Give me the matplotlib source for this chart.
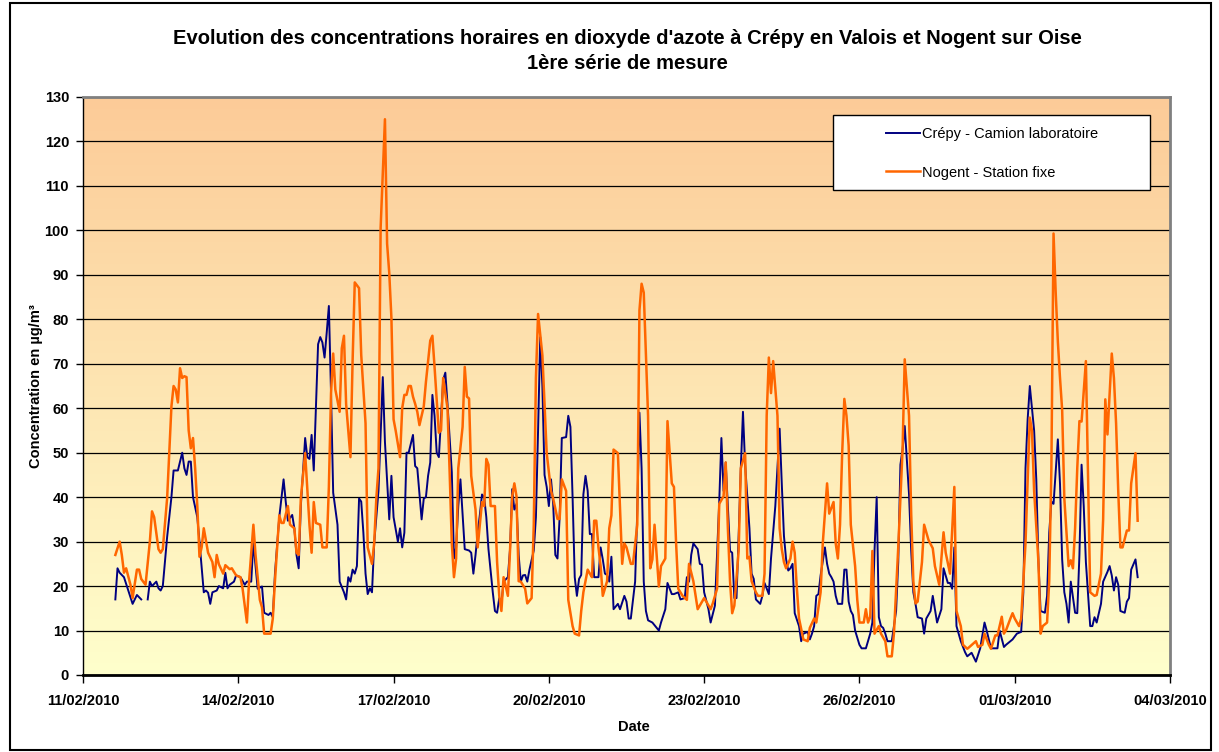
import numpy as np
import pandas as pd
import matplotlib
matplotlib.use('Agg')
import matplotlib.pyplot as plt
import matplotlib.dates as mdates
from matplotlib.colors import LinearSegmentedColormap
from matplotlib.patches import Rectangle

plt.rcParams['font.family'] = ['Liberation Sans', 'DejaVu Sans']

# hourly NO2 readings (hours after 11/02/2010 00:00, values in µg/m³)
start = pd.Timestamp('2010-02-11 00:00')

crepy_hours = [
    15, 16, 17, 19, 23, 25, 27, 28, 30, 31, 32, 34, 35, 36, 37, 39, 41, 42, 44, 46,
    47, 48, 49, 50, 51, 53, 54, 56, 57, 58, 59, 60, 62, 63, 65, 66, 67, 68, 70, 71,
    73, 75, 76, 78, 79, 80, 81, 83, 84, 86, 87, 88, 89, 91, 93, 94, 95, 97, 98, 99,
    100, 101, 103, 104, 105, 106, 107, 109, 110, 111, 112, 113, 114, 115, 116, 118, 119, 121, 122, 123,
    124, 125, 126, 127, 128, 129, 130, 131, 132, 133, 134, 135, 137, 139, 140, 142, 143, 144, 146, 147,
    148, 149, 150, 151, 153, 154, 155, 157, 158, 159, 160, 161, 162, 163, 164, 165, 167, 168, 169, 171,
    172, 173, 174, 175, 177, 179, 180, 181, 182, 183, 184, 185, 186, 187, 188, 190, 191, 192, 193, 194,
    195, 197, 198, 199, 200, 201, 202, 203, 204, 205, 206, 207, 209, 210, 211, 212, 213, 214, 215, 216,
    217, 218, 219, 220, 221, 222, 224, 225, 226, 227, 228, 229, 230, 231, 232, 233, 234, 235, 236, 237,
    239, 240, 241, 242, 243, 244, 245, 246, 248, 249, 251, 252, 253, 254, 256, 257, 258, 259, 260, 261,
    262, 264, 267, 268, 270, 271, 273, 274, 276, 277, 279, 280, 281, 282, 283, 285, 286, 287, 288, 290,
    291, 293, 295, 296, 297, 298, 300, 301, 302, 303, 304, 305, 306, 307, 309, 310, 311, 312, 314, 315,
    316, 318, 319, 321, 323, 324, 325, 326, 327, 328, 329, 330, 332, 333, 334, 336, 337, 338, 339, 340,
    341, 342, 344, 345, 346, 347, 348, 349, 350, 352, 353, 354, 355, 356, 357, 358, 360, 361, 363, 365,
    366, 367, 368, 369, 370, 371, 372, 373, 375, 376, 377, 378, 379, 380, 381, 383, 384, 385, 386, 387,
    389, 390, 391, 393, 394, 396, 398, 399, 401, 402, 403, 404, 405, 406, 407, 409, 410, 412, 414, 416,
    418, 419, 421, 422, 424, 425, 427, 428, 430, 431, 433, 435, 436, 437, 438, 439, 441, 442, 443, 444,
    446, 447, 448, 449, 450, 452, 453, 454, 455, 456, 457, 458, 460, 461, 462, 463, 464, 465, 467, 468,
    469, 470, 472, 473, 475, 476, 477, 478, 479, 480, 481, 483, 484, 485, 486, 488, 489,
]
crepy_no2 = [
    17, 24, 23, 22, 16, 18, 17, np.nan, 17, 21, 20, 21, 19.5, 19, 20, 31, 40, 46, 46, 50,
    46.5, 45, 48, 48, 40, 35.5, 30, 18.6, 19, 18.5, 16, 18.6, 19, 20, 19.5, 23, 19.5, 20.3, 21, 22.4,
    22, 20.3, 21, 21, 30, 24.5, 19.4, 19.9, 14, 13.5, 14, 13, 22.8, 35.5, 44, 39, 34.7, 36, 33, 27,
    24, 38, 53.3, 49, 48.6, 54, 46, 74.4, 76, 74.8, 71.4, 77, 83, 63.4, 41, 33.8, 21, 18.6, 17, 22,
    21, 23.7, 22.8, 24.5, 39.7, 39, 32, 22.8, 18.2, 19.5, 18.6, 29.6, 41.4, 67, 52.4, 35, 44.8, 35.5, 30, 33,
    28.7, 32, 50, 50, 54, 47, 46.5, 35, 39.7, 40, 44.8, 47.8, 63, 58.3, 50, 49, 66.4, 68, 61, 45.6,
    26.2, 28.7, 38, 44, 28.3, 28, 27.5, 22.8, 27, 32, 36, 40.6, 40, 35.5, 28.3, 18.6, 14.4, 14, 17.3, 16,
    21, 22, 28.3, 41.8, 37.2, 38.5, 27, 21, 22.4, 22.5, 21, 23.7, 28, 35.5, 55, 76, 65, 45, 42.3, 38,
    44, 38.5, 27, 26.2, 35.5, 53.3, 53.5, 58.3, 55.8, 40, 22, 17.8, 21.6, 22.5, 40.6, 44.8, 41.4, 31.7, 31.7, 22,
    22, 28.7, 26, 22.8, 22.5, 21, 26.6, 14.8, 16, 14.8, 17.8, 16.5, 12.7, 12.7, 21, 37, 59, 46.5, 21, 14.4,
    12.3, 11.8, 10, 11.8, 14.8, 20.7, 18.2, 18.2, 18.6, 17, 17.3, 22, 21, 27, 29.6, 28.3, 25, 24.8, 18.6, 14.8,
    11.8, 15.6, 39, 53.3, 41.4, 47.8, 27.9, 27.5, 17.3, 17.3, 31.3, 46.5, 59.2, 47.3, 33, 22.8, 21.6, 17, 16, 17.8,
    20.7, 18.2, 26.2, 38, 55.4, 43, 31.3, 26, 23.5, 24, 25, 13.9, 11, 7.6, 9.3, 9.7, 8, 9.3, 11, 17.8,
    18.2, 22.4, 28.7, 25, 22.8, 22, 21, 17.8, 16, 16, 23.7, 23.7, 16.5, 14.4, 13.5, 10, 6.8, 6, 6, 9.3,
    11.8, 28, 40, 13, 11, 10.6, 9.3, 7.6, 7.6, 11, 14.4, 25.4, 47.3, 50.7, 56, 40.6, 28, 18.6, 16, 13,
    12.7, 9.3, 12.7, 14.4, 17.8, 11.8, 14.8, 24, 20.7, 20.7, 19.4, 28.7, 11, 9.3, 7.6, 5.1, 4.2, 5, 3, 6,
    11.8, 10, 6, 6, 6, 10, 6.3, 6.8, 7.6, 8, 9.3, 9.7, 18.6, 46.5, 57.5, 65, 55, 44, 25.4, 14.4,
    14, 17.8, 32, 39, 38.5, 53, 43, 26, 18.6, 16, 11.8, 21, 14, 13.9, 27, 47.3, 38, 25.4, 11, 11,
    13, 11.8, 16, 21, 23.2, 24.5, 22.4, 19, 22, 20.3, 14.4, 14, 16.5, 17.3, 23.7, 26, 22,
]

nogent_hours = [
    15, 17, 18, 19, 20, 22, 23, 25, 26, 27, 29, 31, 32, 33, 35, 36, 37, 39, 41, 42,
    43, 44, 45, 46, 47, 48, 49, 50, 51, 52, 53, 54, 55, 56, 58, 60, 61, 62, 63, 65,
    66, 68, 69, 71, 73, 74, 76, 77, 79, 80, 82, 83, 84, 87, 88, 89, 91, 92, 93, 95,
    96, 98, 99, 100, 101, 103, 105, 106, 107, 108, 110, 111, 113, 114, 115, 116, 117, 119, 120, 121,
    122, 124, 125, 126, 128, 129, 131, 132, 134, 135, 136, 137, 138, 140, 141, 142, 143, 144, 145, 147,
    148, 149, 150, 151, 152, 153, 154, 155, 156, 157, 158, 159, 161, 162, 163, 165, 166, 167, 169, 170,
    171, 172, 173, 174, 176, 177, 178, 179, 180, 182, 183, 185, 186, 187, 188, 189, 191, 192, 193, 194,
    195, 196, 197, 198, 199, 200, 201, 202, 203, 205, 206, 208, 209, 210, 211, 213, 214, 215, 217, 218,
    220, 221, 222, 224, 225, 227, 228, 230, 231, 232, 234, 235, 236, 237, 238, 239, 240, 241, 243, 244,
    245, 246, 248, 250, 251, 252, 254, 255, 257, 258, 259, 260, 261, 262, 263, 264, 265, 266, 267, 268,
    270, 271, 273, 274, 275, 276, 278, 280, 281, 283, 285, 288, 289, 291, 292, 294, 295, 297, 298, 299,
    300, 301, 302, 304, 305, 307, 308, 309, 310, 312, 313, 315, 316, 317, 318, 319, 320, 322, 323, 324,
    325, 326, 328, 329, 330, 331, 332, 334, 336, 337, 339, 340, 342, 343, 345, 346, 348, 349, 350, 351,
    352, 353, 354, 355, 356, 358, 359, 360, 362, 363, 364, 365, 366, 367, 369, 370, 372, 373, 375, 376,
    378, 380, 381, 383, 384, 385, 386, 387, 389, 390, 392, 394, 395, 397, 399, 400, 402, 404, 405, 407,
    408, 410, 411, 414, 415, 417, 418, 420, 421, 423, 424, 426, 427, 428, 430, 431, 432, 434, 435, 437,
    438, 439, 440, 441, 443, 444, 445, 447, 448, 449, 450, 451, 452, 453, 454, 455, 457, 458, 459, 460,
    461, 462, 463, 465, 467, 469, 470, 472, 473, 474, 475, 477, 478, 479, 480, 481, 482, 484, 485, 486,
    488, 489,
]
nogent_no2 = [
    27, 30, 27, 23, 24, 20.3, 17.3, 23.7, 23.7, 21.6, 20.3, 30, 36.8, 35.5, 28.3, 27.5, 28.3, 39.7, 60.4, 65,
    64.2, 61.3, 69, 66.8, 67.2, 67, 55, 51, 53.3, 46.5, 38, 26.6, 28.7, 33, 27.5, 25.4, 22, 27, 24.9, 22.8,
    24.7, 23.8, 24, 22.4, 22, 19.4, 11.8, 21.1, 33.8, 27, 16.9, 15.2, 9.3, 9.3, 12.7, 21.1, 35.9, 34.2, 34.2, 38,
    33.8, 33, 27.5, 27, 39.7, 49.9, 33.8, 27.5, 38.9, 34.2, 33.8, 28.7, 28.7, 42.3, 63.4, 72.3, 64.2, 59.2, 73.5, 76.3,
    60.9, 49, 70.6, 88.3, 87, 72, 56.6, 28.7, 25, 29.6, 39.7, 46.5, 100.6, 125, 97, 90.4, 80.3, 57.5, 54.9, 49,
    60, 63, 63, 65, 65, 62.6, 61, 59.2, 56.2, 58.3, 60.4, 65.9, 75.2, 76.3, 69.3, 54.5, 55, 66.8, 60, 45.6,
    29.6, 22, 26.2, 46.5, 55.8, 69.3, 62.6, 62.2, 44.8, 37.2, 28.7, 38.9, 38, 48.6, 47.3, 38, 38, 25.4, 17.8, 14.4,
    22, 20, 17.8, 28, 40.2, 43.1, 40.2, 21.1, 21, 19.4, 16.1, 17.3, 33.8, 66.8, 81.2, 71.9, 60.9, 49.9, 41.4, 39.7,
    35.1, 35.1, 44, 41.4, 16.9, 11, 9.3, 8.9, 14.4, 18.6, 23.7, 22.8, 22, 34.7, 34.7, 28.7, 24.5, 17.8, 21.1, 33,
    35.9, 50.7, 49.9, 25, 29.6, 28.7, 25, 25, 33.8, 82, 88, 86, 71.9, 58.3, 24, 26, 33.8, 27, 19.9, 24.5,
    26.2, 57.1, 43.1, 42.3, 29.6, 19.4, 17.8, 16.9, 25, 21.1, 14.8, 17.3, 16.5, 14.8, 16.1, 19.4, 38.5, 40.2, 47.8, 33,
    21.1, 13.9, 15.6, 27.9, 46.5, 49.9, 26.2, 26.6, 21.1, 18.6, 17.8, 17.8, 22.8, 58.3, 71.4, 63.4, 70.6, 58.3, 33, 28.3,
    25.4, 24, 26.2, 30, 27.5, 19.4, 12.7, 8, 7.6, 10.6, 12.7, 11.8, 18.6, 29.6, 43.1, 36.3, 38.9, 29.6, 26.2, 33.8,
    49.9, 62.1, 58.3, 51.6, 33.8, 24.5, 16.9, 11.8, 11.8, 14.8, 11.8, 13.1, 27.9, 9.3, 11, 9.3, 7.6, 4.2, 4.2, 9.3,
    28.7, 50.7, 71, 58.3, 36.3, 21.1, 16.1, 16.5, 25.4, 33.8, 30.4, 28.5, 24.5, 20.3, 32.1, 27.5, 22.8, 42.3, 14.4, 11,
    6.8, 5.9, 6.3, 7.6, 6.3, 6.8, 9.3, 6.8, 5.9, 8.9, 8.9, 13.1, 9.3, 10.1, 12.7, 13.9, 12.7, 11, 12.7, 29.6,
    44, 57.9, 54.9, 41.4, 25.4, 9.3, 11, 11.8, 21.1, 46.5, 99.3, 86, 75, 66.8, 59.6, 39.7, 24.5, 25.8, 24, 33,
    46.5, 57.1, 57, 70.6, 18.6, 17.8, 18, 22.8, 35, 62, 54.1, 72.3, 66.8, 56.6, 41.4, 28.7, 28.7, 32.5, 32.5, 43.1,
    49.9, 34.7,
]

date_ticks = pd.date_range('2010-02-11', '2010-03-04', freq='3D')
y_ticks = list(range(0, 131, 10))

title = ("Evolution des concentrations horaires en dioxyde d'azote à Crépy en Valois et Nogent sur Oise\n"
         "1ère série de mesure")

crepy_time = start + pd.to_timedelta(crepy_hours, unit='h')
nogent_time = start + pd.to_timedelta(nogent_hours, unit='h')

fig = plt.figure(figsize=(12.19, 7.52), dpi=100)
rect = [83 / 1219, 1 - 675 / 752, 1087 / 1219, 578 / 752]

# gradient behind the plot area
bg = fig.add_axes(rect, zorder=0)
cmap = LinearSegmentedColormap.from_list('sunset', ['#FCCB98', '#FFFFCC'])
bg.imshow(np.linspace(0, 1, 256).reshape(-1, 1), aspect='auto', cmap=cmap,
          extent=[0, 1, 0, 1], origin='upper')
bg.axis('off')

ax = fig.add_axes(rect, zorder=1)
ax.patch.set_alpha(0)

ax.plot(crepy_time, crepy_no2, color='#000080', lw=1.4, label='Crépy - Camion laboratoire')
ax.plot(nogent_time, nogent_no2, color='#FF6600', lw=1.8, label='Nogent - Station fixe')

ax.set_xlim(date_ticks[0], date_ticks[-1])
ax.set_ylim(0, 130)
ax.set_yticks(y_ticks)
ax.set_xticks(date_ticks)
ax.xaxis.set_major_formatter(mdates.DateFormatter('%d/%m/%Y'))

ax.yaxis.grid(True, color='black', lw=0.9)
ax.set_axisbelow(True)

for side in ('top', 'right'):
    ax.spines[side].set_color('#808080')
    ax.spines[side].set_linewidth(2)
ax.spines['left'].set_linewidth(1)
ax.spines['bottom'].set_linewidth(2)

ax.tick_params(axis='y', direction='out', length=5, width=1, pad=5, labelsize=10.5)
ax.tick_params(axis='x', direction='out', length=6, width=1, pad=8, labelsize=10.5)
for lab in ax.get_xticklabels() + ax.get_yticklabels():
    lab.set_fontweight('bold')

ax.set_ylabel('Concentration en µg/m³', fontsize=10.5, fontweight='bold')
ax.yaxis.set_label_coords(-0.037, 0.5)
ax.set_xlabel('Date', fontsize=10.5, fontweight='bold')
ax.xaxis.set_label_coords(0.507, -0.077)

# legend: white box with the entries centred inside it
box = Rectangle((833 / 1219, 1 - 190 / 752), 317 / 1219, 75 / 752,
                transform=fig.transFigure, facecolor='white', edgecolor='black',
                lw=1, zorder=4)
ax.add_artist(box)
leg = ax.legend(loc='center left', bbox_to_anchor=(886 / 1219, 1 - 153.5 / 752),
                bbox_transform=fig.transFigure, fontsize=10.5, frameon=False,
                borderpad=0, labelspacing=1.65, handlelength=2.35,
                handletextpad=0.15, borderaxespad=0)
leg.set_zorder(5)

fig.text(627 / 1219, 1 - 51 / 752, title, ha='center', va='center',
         fontsize=14.5, fontweight='bold', linespacing=1.4)

fig.patches.append(Rectangle((10 / 1219, 2 / 752), 1201 / 1219, 747 / 752,
                             transform=fig.transFigure, fill=False,
                             ec='black', lw=1.5))

fig.savefig('out.png', dpi=100)
